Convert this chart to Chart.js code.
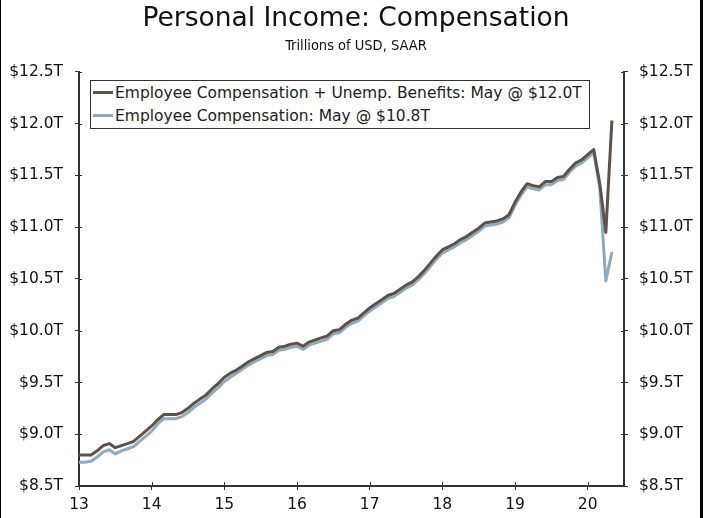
<!DOCTYPE html>
<html>
<head>
<meta charset="utf-8">
<script src="https://cdn.jsdelivr.net/npm/chart.js@4.4.0/dist/chart.umd.min.js"></script>
<style>
  html, body { margin: 0; padding: 0; background: #fff; }
  #wrap { position: relative; width: 712px; height: 518px; }
  #frame { position: absolute; left: 0; top: 0; width: 703px; height: 518px; box-sizing: border-box;
           border-left: 1px solid #000; border-right: 3px solid #000; pointer-events: none; }
  #legend { position: absolute; left: 90px; top: 80px; width: 500px; height: 49px; box-sizing: border-box;
            border: 1px solid #333; background: #fff; font-family: 'DejaVu Sans', Verdana, sans-serif;
            font-size: 15.5px; color: #222; padding-top: 1px; }
  .row { height: 23px; line-height: 23px; white-space: nowrap; }
  .swatch { display: inline-block; width: 20px; height: 3px; vertical-align: middle; margin: 0 2px 2px 2px; }
</style>
</head>
<body>
<div id="wrap">
  <canvas id="chart" width="712" height="518"></canvas>
  <div id="legend"></div>
  <div id="frame"></div>
</div>
<script>
// monthly, Jan 2013 .. May 2020
const yearTicks = ['13', '14', '15', '16', '17', '18', '19', '20'];
const yTicks = [8.5, 9.0, 9.5, 10.0, 10.5, 11.0, 11.5, 12.0, 12.5];

const compPlusUI = [
  8.80, 8.80, 8.80, 8.84, 8.89, 8.91, 8.87, 8.89, 8.91, 8.93, 8.98, 9.03,
  9.08, 9.14, 9.19, 9.19, 9.19, 9.21, 9.25, 9.30, 9.34, 9.38, 9.44, 9.49,
  9.55, 9.59, 9.62, 9.66, 9.70, 9.73, 9.76, 9.79, 9.80, 9.84, 9.85, 9.87,
  9.88, 9.85, 9.89, 9.91, 9.93, 9.95, 10.00, 10.01, 10.06, 10.10, 10.12, 10.17,
  10.22, 10.26, 10.30, 10.34, 10.36, 10.40, 10.44, 10.47, 10.52, 10.58, 10.65, 10.72,
  10.78, 10.81, 10.84, 10.88, 10.91, 10.95, 10.99, 11.04, 11.05, 11.06, 11.08, 11.12,
  11.24, 11.34, 11.42, 11.40, 11.39, 11.44, 11.44, 11.48, 11.49, 11.56, 11.62, 11.65,
  11.70, 11.75, 11.42, 10.95, 12.03
];
const comp = [
  8.73, 8.73, 8.74, 8.78, 8.83, 8.85, 8.81, 8.84, 8.86, 8.88, 8.93, 8.98,
  9.03, 9.10, 9.15, 9.15, 9.15, 9.17, 9.21, 9.26, 9.30, 9.34, 9.40, 9.45,
  9.51, 9.55, 9.59, 9.63, 9.67, 9.70, 9.73, 9.76, 9.77, 9.81, 9.82, 9.84,
  9.85, 9.82, 9.86, 9.88, 9.90, 9.92, 9.97, 9.98, 10.03, 10.07, 10.09, 10.14,
  10.19, 10.23, 10.27, 10.31, 10.33, 10.37, 10.41, 10.44, 10.49, 10.55, 10.62, 10.69,
  10.75, 10.78, 10.81, 10.85, 10.88, 10.92, 10.96, 11.01, 11.02, 11.03, 11.05, 11.09,
  11.21, 11.31, 11.39, 11.37, 11.36, 11.41, 11.41, 11.45, 11.46, 11.53, 11.59, 11.62,
  11.67, 11.72, 11.38, 10.48, 10.76
];

const seriesNames = [
  'Employee Compensation + Unemp. Benefits: May @ $12.0T',
  'Employee Compensation: May @ $10.8T'
];
const seriesColors = ['#5e514a', '#8eaabc'];

function toPoints(arr) {
  return arr.map((v, i) => ({ x: i, y: v }));
}

// html legend with a box
const legendEl = document.getElementById('legend');
seriesNames.forEach((name, i) => {
  const row = document.createElement('div');
  row.className = 'row';
  row.innerHTML = '<span class="swatch" style="background:' + seriesColors[i] + '"></span>' + name;
  legendEl.appendChild(row);
});

const axisColor = '#333';
const tickFont = { family: "'DejaVu Sans', Verdana, sans-serif", size: 15.5 };
const fmt = v => '$' + Number(v).toFixed(1) + 'T';

// small tick marks on the inside of each axis
const innerTicks = {
  id: 'innerTicks',
  afterDraw(chart) {
    const c = chart.ctx, a = chart.chartArea;
    c.save();
    c.strokeStyle = axisColor;
    c.lineWidth = 1;
    c.beginPath();
    for (const t of chart.scales.x.ticks) {
      const px = Math.round(chart.scales.x.getPixelForValue(t.value)) + 0.5;
      c.moveTo(px, a.bottom); c.lineTo(px, a.bottom - 4);
    }
    for (const t of chart.scales.y.ticks) {
      const py = Math.round(chart.scales.y.getPixelForValue(t.value)) + 0.5;
      c.moveTo(a.left, py); c.lineTo(a.left + 3, py);
      c.moveTo(a.right, py); c.lineTo(a.right - 3, py);
    }
    c.stroke();
    c.restore();
  }
};

new Chart(document.getElementById('chart'), {
  type: 'line',
  data: {
    datasets: [
      { label: seriesNames[0], data: toPoints(compPlusUI), borderColor: seriesColors[0], borderWidth: 3 },
      { label: seriesNames[1], data: toPoints(comp), borderColor: seriesColors[1], borderWidth: 3 }
    ]
  },
  options: {
    responsive: false,
    animation: false,
    events: [],
    elements: { point: { radius: 0 }, line: { tension: 0, borderJoinStyle: 'round' } },
    layout: { padding: 0 },
    plugins: {
      legend: { display: false },
      tooltip: { enabled: false },
      title: {
        display: true,
        text: 'Personal Income: Compensation',
        color: '#111',
        font: { family: "'DejaVu Sans', Tahoma, sans-serif", size: 26.5, weight: 'normal', lineHeight: 1.15 },
        padding: { top: 4, bottom: 3 }
      },
      subtitle: {
        display: true,
        text: 'Trillions of USD, SAAR',
        color: '#111',
        font: { family: "'DejaVu Sans Condensed', Tahoma, sans-serif", size: 14.5, lineHeight: 1.2 },
        padding: { top: 0, bottom: 17 }
      }
    },
    scales: {
      x: {
        type: 'linear',
        min: 0,
        max: 90,
        afterBuildTicks: s => { s.ticks = s.ticks.filter(t => t.value % 12 === 0); },
        afterFit: s => { s.height = 32; },
        ticks: {
          stepSize: 12,
          autoSkip: false,
          maxRotation: 0,
          padding: 6,
          color: '#111',
          font: tickFont,
          callback: v => yearTicks[v / 12] ?? ''
        },
        grid: { drawOnChartArea: false, tickLength: 4, color: axisColor },
        border: { color: axisColor, width: 2 }
      },
      y: {
        position: 'left',
        min: 8.5,
        max: 12.5,
        afterBuildTicks: s => { s.ticks = yTicks.map(v => ({ value: v })); },
        afterFit: s => { s.width = 79; },
        ticks: { padding: 12, color: '#111', font: tickFont, callback: fmt },
        grid: { drawOnChartArea: false, tickLength: 4, color: axisColor },
        border: { color: axisColor, width: 2 }
      },
      y2: {
        position: 'right',
        min: 8.5,
        max: 12.5,
        afterBuildTicks: s => { s.ticks = yTicks.map(v => ({ value: v })); },
        afterFit: s => { s.width = 88; },
        ticks: { padding: 11, color: '#111', font: tickFont, callback: fmt },
        grid: { drawOnChartArea: false, tickLength: 4, color: axisColor },
        border: { color: axisColor, width: 2 }
      }
    }
  },
  plugins: [innerTicks]
});
</script>
</body>
</html>
